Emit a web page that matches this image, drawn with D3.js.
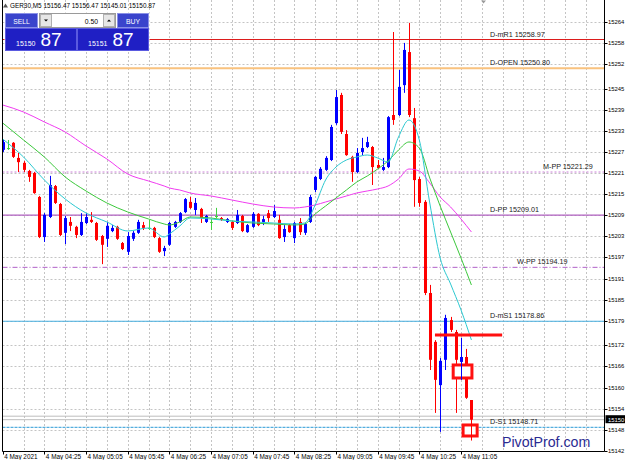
<!DOCTYPE html>
<html>
<head>
<meta charset="utf-8">
<script src="https://cdn.jsdelivr.net/npm/d3@7"></script>
<style>
    body { margin: 0; background: #fff; }
    svg { display: block; font-family: "Liberation Sans", Arial, sans-serif; }
</style>
</head>
<body>
<div id="chart"></div>
<script>
var symbol = "GER30,M5";
var bid = 15150.87, ask = 15151.87, lotText = "0.50";

// M5 bars from 03:45, one label every 8 bars
var timeLabels = ["4 May 2021", "4 May 04:25", "4 May 05:05", "4 May 05:45", "4 May 06:25", "4 May 07:05",
    "4 May 07:45", "4 May 08:25", "4 May 09:05", "4 May 09:45", "4 May 10:25", "4 May 11:05"];

var priceTicks = [15264, 15258, 15252, 15245, 15239, 15233, 15227, 15221, 15215, 15209, 15203,
    15197, 15191, 15185, 15179, 15172, 15166, 15160, 15154, 15148, 15142];

var opens = [15227.6, 15228.1, 15229.6, 15225.3, 15223.9, 15221.6, 15221.0, 15214.2, 15202.8, 15208.5,
    15217.3, 15212.2, 15204.0, 15207.1, 15205.7, 15203.4, 15206.8, 15207.7, 15206.8, 15203.1,
    15202.3, 15204.5, 15205.7, 15201.1, 15198.6, 15202.3, 15204.0, 15206.2, 15205.4, 15205.4,
    15202.5, 15198.8, 15200.6, 15205.7, 15207.1, 15209.9, 15212.8, 15210.5, 15210.8, 15207.1,
    15207.1, 15208.8, 15208.2, 15207.1, 15207.1, 15206.8, 15208.8, 15204.2, 15205.7, 15209.4,
    15207.1, 15209.6, 15208.5, 15207.7, 15202.8, 15206.2, 15202.5, 15207.1, 15204.0, 15207.1,
    15216.2, 15219.3, 15221.9, 15224.7, 15235.2, 15243.2, 15232.1, 15225.6, 15221.3, 15227.0,
    15228.4, 15228.4, 15223.3, 15221.9, 15222.7, 15237.5, 15237.5, 15246.0, 15255.4, 15236.6,
    15219.3, 15212.8, 15186.9, 15173.0, 15160.7, 15167.9, 15179.2, 15175.8, 15167.3, 15168.7,
    15156.47];
var highs = [15230.4, 15230.4, 15229.8, 15226.7, 15224.4, 15221.9, 15221.3, 15214.5, 15209.6, 15220.2,
    15217.6, 15212.5, 15208.8, 15208.5, 15206.0, 15209.6, 15209.6, 15209.9, 15207.1, 15203.4,
    15207.1, 15206.2, 15206.0, 15201.4, 15204.2, 15204.5, 15207.7, 15207.1, 15207.7, 15205.7,
    15202.8, 15200.3, 15207.1, 15207.4, 15209.9, 15213.9, 15214.2, 15213.9, 15211.1, 15209.1,
    15207.9, 15211.1, 15208.5, 15208.2, 15207.4, 15210.5, 15209.1, 15206.5, 15209.9, 15209.6,
    15208.8, 15210.5, 15211.9, 15209.1, 15206.2, 15206.5, 15207.1, 15208.2, 15206.8, 15214.8,
    15220.2, 15222.7, 15225.8, 15234.7, 15244.6, 15243.8, 15233.2, 15225.9, 15228.1, 15231.0,
    15231.3, 15228.7, 15224.7, 15225.3, 15237.2, 15261.1, 15250.3, 15258.0, 15263.7, 15239.5,
    15219.9, 15213.3, 15189.2, 15173.5, 15168.4, 15180.7, 15180.1, 15176.4, 15174.1, 15171.0,
    15156.47];
var lows = [15227.0, 15227.6, 15225.3, 15221.3, 15221.3, 15218.5, 15215.1, 15202.5, 15201.4, 15208.2,
    15212.2, 15203.1, 15200.8, 15204.5, 15202.5, 15203.1, 15206.5, 15206.8, 15201.7, 15195.1,
    15200.0, 15204.2, 15202.0, 15199.1, 15197.7, 15201.7, 15203.7, 15204.8, 15204.8, 15202.5,
    15198.3, 15197.4, 15200.3, 15205.4, 15206.8, 15209.6, 15210.8, 15209.1, 15206.8, 15206.8,
    15204.8, 15208.2, 15207.4, 15206.8, 15204.8, 15206.5, 15204.2, 15204.0, 15205.4, 15205.9,
    15206.2, 15207.1, 15208.2, 15202.3, 15201.4, 15204.0, 15201.1, 15203.4, 15203.4, 15206.8,
    15215.6, 15219.0, 15221.6, 15224.4, 15234.7, 15232.1, 15225.9, 15218.5, 15221.0, 15226.1,
    15228.1, 15217.6, 15222.2, 15221.6, 15222.4, 15234.7, 15237.2, 15243.8, 15236.9, 15211.4,
    15211.4, 15186.3, 15165.0, 15152.8, 15147.4, 15165.0, 15175.8, 15152.8, 15162.2, 15156.8,
    15145.01];
var closes = [15229.8, 15228.1, 15225.6, 15224.1, 15221.9, 15219.9, 15215.3, 15202.8, 15209.1, 15217.6,
    15212.5, 15203.4, 15208.2, 15206.0, 15203.4, 15207.1, 15208.5, 15207.1, 15202.0, 15200.6,
    15206.0, 15205.4, 15202.3, 15199.4, 15203.1, 15204.0, 15207.1, 15205.4, 15205.4, 15202.8,
    15198.6, 15199.7, 15206.8, 15207.1, 15209.6, 15213.6, 15211.1, 15212.5, 15208.2, 15208.8,
    15207.1, 15208.8, 15207.7, 15207.9, 15205.4, 15209.1, 15204.5, 15206.2, 15209.4, 15206.2,
    15207.9, 15208.2, 15210.2, 15202.5, 15205.1, 15204.2, 15206.8, 15204.2, 15206.5, 15214.2,
    15219.9, 15222.2, 15225.3, 15234.1, 15242.6, 15232.7, 15226.1, 15221.3, 15226.7, 15228.1,
    15229.8, 15222.7, 15222.4, 15222.7, 15236.9, 15236.1, 15245.5, 15256.0, 15237.5, 15219.0,
    15212.5, 15186.9, 15167.9, 15162.2, 15167.6, 15179.8, 15176.4, 15167.9, 15168.7, 15157.1,
    15150.87];

// moving averages, read at these bar indices
var maIndex = [0, 4, 8, 12, 16, 20, 24, 28, 31, 32, 34, 36, 40, 44, 48, 52, 56, 58, 60, 62, 64, 66,
    68, 70, 72, 74, 76, 78, 80, 82, 84, 86, 88, 90];
var maSlow = [15240.35, 15238.36, 15235.52, 15232.67, 15228.69, 15225.00, 15220.73, 15218.74, 15217.32,
    15216.75, 15216.18, 15215.33, 15214.48, 15213.34, 15212.20, 15211.35, 15211.07, 15211.35, 15211.92,
    15212.77, 15213.62, 15214.48, 15215.33, 15215.90, 15216.47, 15217.32, 15219.31, 15222.15, 15221.58,
    15218.17, 15214.19, 15211.35, 15207.94, 15204.24];
var maMid = [15235.23, 15230.40, 15225.56, 15219.88, 15215.90, 15212.49, 15209.93, 15207.94, 15206.52,
    15206.23, 15207.09, 15208.51, 15208.22, 15207.37, 15206.80, 15206.52, 15206.23, 15206.52, 15209.36,
    15211.63, 15213.91, 15216.18, 15218.46, 15220.16, 15222.15, 15224.43, 15227.55, 15229.83, 15228.12,
    15219.59, 15211.63, 15204.24, 15196.85, 15189.17];
var maFast = [15230.68, 15225.56, 15219.03, 15213.62, 15209.64, 15207.09, 15204.53, 15205.38, 15202.82,
    15203.67, 15205.95, 15208.22, 15207.94, 15207.37, 15207.09, 15206.80, 15206.52, 15206.80, 15211.92,
    15219.03, 15222.72, 15224.71, 15225.56, 15226.13, 15225.28, 15224.14, 15231.25, 15236.08, 15230.40,
    15212.49, 15196.85, 15189.46, 15182.07, 15173.54];

// pivot levels
var levelNames = ["D-mR1", "D-OPEN", "M-PP", "D-PP", "W-PP", "D-mS1", "D-S1"];
var levelValues = [15258.97, 15250.80, 15221.29, 15209.01, 15194.19, 15178.86, 15148.71];

// hand drawn objects: [bar from, bar to, price a, price b]
var boxes = [[86.5, 90.1, 15166.43, 15162.73], [88.4, 91.1, 15149.37, 15146.24]];
var trendLine = [83, 95.9, 15174.96];

var levelStyle = {
    "D-mR1": {color: "#dc1c1c", dash: null, width: 1.2, lx: 490},
    "D-OPEN": {color: "#f9c27e", dash: null, width: 2, lx: 490},
    "M-PP": {color: "#c97fd6", dash: "2,2", width: 1, lx: 543},
    "D-PP": {color: "#b060c0", dash: null, width: 1.2, lx: 490},
    "W-PP": {color: "#b060c8", dash: "5,2,1,2", width: 1, lx: 517},
    "D-mS1": {color: "#45aee0", dash: null, width: 1, lx: 490},
    "D-S1": {color: "#2a9ad6", dash: "3,1", width: 1, lx: 490}
};

let W = 625, H = 460;
let plot = {left: 2.5, right: 604.5, top: 0, bottom: 451.5};

let svg = d3.select("#chart").append("svg")
    .attr("width", W)
    .attr("height", H);

let x = d3.scaleLinear().domain([0, 88]).range([2.7, 461]);
let y = d3.scaleLinear().domain([15148.71, 15258.97]).range([427.3, 39.5]);

svg.append("clipPath").attr("id", "plotClip")
    .append("rect")
    .attr("x", plot.left).attr("y", plot.top)
    .attr("width", plot.right - plot.left).attr("height", plot.bottom - plot.top);

let area = svg.append("g").attr("clip-path", "url(#plotClip)");

// grid
let vGrid = d3.range(4, 120, 4).filter(function (i) { return x(i) < plot.right - 1; });
area.selectAll(".vgrid").data(vGrid).enter().append("line")
    .attr("x1", function (d) { return Math.round(x(d)) + 0.5; })
    .attr("x2", function (d) { return Math.round(x(d)) + 0.5; })
    .attr("y1", plot.top).attr("y2", plot.bottom)
    .attr("stroke", "#c4c4c4").attr("stroke-dasharray", "2,2");
area.selectAll(".hgrid").data(priceTicks).enter().append("line")
    .attr("x1", plot.left).attr("x2", plot.right)
    .attr("y1", function (d) { return Math.round(y(d)) + 0.5; })
    .attr("y2", function (d) { return Math.round(y(d)) + 0.5; })
    .attr("stroke", "#c4c4c4").attr("stroke-dasharray", "2,2");

// pivot lines
area.selectAll(".level").data(levelNames).enter().append("line")
    .attr("x1", plot.left).attr("x2", plot.right)
    .attr("y1", function (d, i) { return y(levelValues[i]); })
    .attr("y2", function (d, i) { return y(levelValues[i]); })
    .attr("stroke", function (d) { return levelStyle[d].color; })
    .attr("stroke-width", function (d) { return levelStyle[d].width; })
    .attr("stroke-dasharray", function (d) { return levelStyle[d].dash; });

// bid / ask lines
area.selectAll(".quote").data([ask, bid]).enter().append("line")
    .attr("x1", plot.left).attr("x2", plot.right)
    .attr("y1", function (d) { return y(d); })
    .attr("y2", function (d) { return y(d); })
    .attr("stroke", "#bdbdbd");

// candles
let bars = d3.range(opens.length);
function barColor(i) {
    if (opens[i] === closes[i]) return "#3fd23f";
    return closes[i] > opens[i] ? "#0000ff" : "#ff0000";
}
area.selectAll(".wick").data(bars).enter().append("line")
    .attr("x1", function (i) { return Math.round(x(i)) + 0.5; })
    .attr("x2", function (i) { return Math.round(x(i)) + 0.5; })
    .attr("y1", function (i) { return y(highs[i]); })
    .attr("y2", function (i) { return y(lows[i]); })
    .attr("stroke", barColor);
area.selectAll(".body").data(bars).enter().append("rect")
    .attr("x", function (i) { return Math.round(x(i)) - 1; })
    .attr("width", 3)
    .attr("y", function (i) { return y(Math.max(opens[i], closes[i])); })
    .attr("height", function (i) { return Math.max(1, Math.abs(y(opens[i]) - y(closes[i]))); })
    .attr("fill", barColor);

// moving averages
let maLine = function (vals) {
    return d3.line()
        .x(function (d, k) { return x(maIndex[k]); })
        .y(function (d) { return y(d); })
        .curve(d3.curveMonotoneX)(vals);
};
[[maSlow, "#f03cf0"], [maMid, "#3cc83c"], [maFast, "#2cc8d0"]].forEach(function (m) {
    area.append("path")
        .attr("d", maLine(m[0]))
        .attr("fill", "none")
        .attr("stroke", m[1])
        .attr("stroke-width", 1);
});

// drawn objects
area.append("line")
    .attr("x1", x(trendLine[0])).attr("x2", x(trendLine[1]))
    .attr("y1", y(trendLine[2])).attr("y2", y(trendLine[2]))
    .attr("stroke", "#ff1010").attr("stroke-width", 3);
area.selectAll(".box").data(boxes).enter().append("rect")
    .attr("x", function (d) { return x(d[0]); })
    .attr("y", function (d) { return y(d[2]); })
    .attr("width", function (d) { return x(d[1]) - x(d[0]); })
    .attr("height", function (d) { return y(d[3]) - y(d[2]); })
    .attr("fill", "#fff")
    .attr("stroke", "#ff1010").attr("stroke-width", 3);
// wicks showing through the boxes
area.selectAll(".wick2").data([88, 90]).enter().append("line")
    .attr("x1", function (i) { return Math.round(x(i)) + 0.5; })
    .attr("x2", function (i) { return Math.round(x(i)) + 0.5; })
    .attr("y1", function (i) { return y(highs[i]); })
    .attr("y2", function (i) { return y(lows[i]); })
    .attr("stroke", barColor);

// level labels
area.selectAll(".levelLabel").data(levelNames).enter().append("text")
    .attr("x", function (d) { return levelStyle[d].lx; })
    .attr("y", function (d, i) { return y(levelValues[i]) - 3; })
    .attr("font-size", 7.2)
    .attr("fill", "#1a1a1a")
    .text(function (d, i) { return d + " " + levelValues[i].toFixed(2); });

// frame
svg.append("path")
    .attr("d", "M" + plot.left + "," + plot.top + "V" + plot.bottom + "H" + plot.right + "V" + plot.top)
    .attr("fill", "none").attr("stroke", "#000");

// price axis
let yAxis = svg.append("g");
yAxis.selectAll(".ytick").data(priceTicks).enter().append("line")
    .attr("x1", plot.right).attr("x2", plot.right + 3)
    .attr("y1", function (d) { return Math.round(y(d)) + 0.5; })
    .attr("y2", function (d) { return Math.round(y(d)) + 0.5; })
    .attr("stroke", "#000");
yAxis.selectAll(".ylabel").data(priceTicks).enter().append("text")
    .attr("x", plot.right + 3.5)
    .attr("y", function (d) { return y(d) + 2; })
    .attr("font-size", 5.9)
    .attr("fill", "#000")
    .text(function (d) { return d; });
yAxis.append("rect")
    .attr("x", plot.right + 1).attr("y", y(bid) - 4.5)
    .attr("width", 20).attr("height", 8)
    .attr("fill", "#000");
yAxis.append("text")
    .attr("x", plot.right + 3.5).attr("y", y(bid) + 1.8)
    .attr("font-size", 5.9).attr("fill", "#fff")
    .text(Math.floor(bid));

// time axis
let xAxis = svg.append("g");
xAxis.selectAll(".xtick").data(timeLabels).enter().append("line")
    .attr("x1", function (d, k) { return Math.round(x(k * 8)) + 0.5; })
    .attr("x2", function (d, k) { return Math.round(x(k * 8)) + 0.5; })
    .attr("y1", plot.bottom).attr("y2", plot.bottom + 3)
    .attr("stroke", "#000");
xAxis.selectAll(".xlabel").data(timeLabels).enter().append("text")
    .attr("x", function (d, k) { return x(k * 8) + 1.5; })
    .attr("y", 458.5)
    .attr("font-size", 6.4)
    .attr("fill", "#000")
    .text(function (d) { return d; });

// header
svg.append("path").attr("d", "M3,7.5L5.5,3.5L8,7.5Z").attr("fill", "#555");
svg.append("text")
    .attr("x", 10).attr("y", 8)
    .attr("font-size", 6.4).attr("fill", "#000")
    .text(symbol + "  " + [opens[90], highs[90], lows[90], closes[90]].map(function (v) { return v.toFixed(2); }).join(" "));
svg.append("path").attr("d", "M481,0.5L486,0.5L483.5,3.5Z").attr("fill", "#9a9a9a");

// one click trading panel
let panel = svg.append("g");
panel.append("rect").attr("x", 4.5).attr("y", 12.5).attr("width", 145).attr("height", 39).attr("fill", "#fff");
[["SELL", 5.5, 32], ["BUY", 117.5, 31]].forEach(function (b) {
    panel.append("rect").attr("x", b[1]).attr("y", 13.5).attr("width", b[2]).attr("height", 14)
        .attr("fill", "#3a44cc").attr("stroke", "#8a90e6");
    panel.append("text").attr("x", b[1] + b[2] / 2).attr("y", 23.5)
        .attr("text-anchor", "middle").attr("font-size", 6.8).attr("fill", "#fff").text(b[0]);
});
panel.append("rect").attr("x", 39.5).attr("y", 13.5).attr("width", 76).attr("height", 14)
    .attr("fill", "#fff").attr("stroke", "#9a9a9a");
[40.5, 103.5].forEach(function (bx, k) {
    panel.append("rect").attr("x", bx).attr("y", 14.5).attr("width", 11).attr("height", 12)
        .attr("fill", "#e6e6e6").attr("stroke", "#b0b0b0");
    let cx = bx + 5.5;
    panel.append("path")
        .attr("d", k === 0 ? "M" + (cx - 2) + ",19.5L" + (cx + 2) + ",19.5L" + cx + ",21.5Z"
            : "M" + (cx - 2) + ",21.5L" + (cx + 2) + ",21.5L" + cx + ",19.5Z")
        .attr("fill", "#000");
});
panel.append("text").attr("x", 98).attr("y", 23.5).attr("text-anchor", "end")
    .attr("font-size", 6.8).attr("fill", "#000").text(lotText);
[[bid, 5.5], [ask, 77.5]].forEach(function (q) {
    let whole = Math.floor(q[0]);
    let frac = Math.round((q[0] - whole) * 100);
    panel.append("rect").attr("x", q[1]).attr("y", 28.5).attr("width", 71).attr("height", 22)
        .attr("fill", "#1f1fc4").attr("stroke", "#5a5ae0");
    panel.append("text").attr("x", q[1] + 10.5).attr("y", 45.5)
        .attr("font-size", 7).attr("fill", "#fff").text(whole);
    panel.append("text").attr("x", q[1] + 35).attr("y", 45.8)
        .attr("font-size", 19).attr("fill", "#fff").text(d3.format("02d")(frac));
});

// watermark
svg.append("text")
    .attr("x", 502).attr("y", 447)
    .attr("font-size", 14.2)
    .attr("fill", "#2b2b92")
    .text("PivotProf.com");
</script>
</body>
</html>
